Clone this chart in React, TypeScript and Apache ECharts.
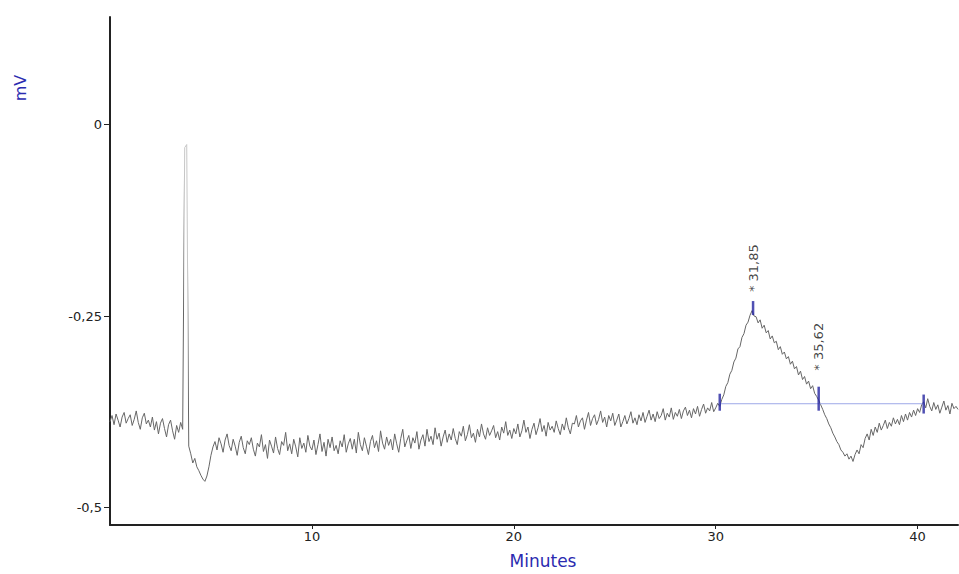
import React, { useEffect, useRef } from 'react';
import * as echarts from 'echarts';

// Sampling grid of the trace (minutes)
const TIME_STEP = 0.1;

// Detector signal in thousandths of mV, one row per minute (x.0 .. x.9), last row = 42.0
const signalRows: number[][] = [
  [-388, -380, -392, -378, -386, -395, -382, -376, -390, -384],
  [-379, -393, -385, -374, -389, -398, -383, -377, -391, -386],
  [-395, -382, -399, -388, -404, -390, -384, -397, -408, -392],
  [-386, -400, -411, -393, -402, -389, -398, -30, -26, -420],
  [-430, -442, -436, -447, -452, -458, -463, -466, -459, -447],
  [-432, -421, -414, -425, -409, -417, -428, -412, -404, -419],
  [-426, -411, -420, -432, -415, -407, -422, -430, -413, -418],
  [-409, -424, -433, -416, -421, -405, -427, -418, -436, -412],
  [-420, -429, -408, -423, -431, -414, -419, -402, -426, -417],
  [-430, -411, -421, -434, -409, -423, -416, -428, -406, -420],
  [-425, -412, -431, -418, -404, -427, -415, -433, -411, -422],
  [-408, -426, -419, -430, -413, -421, -405, -428, -417, -410],
  [-424, -411, -429, -402, -418, -426, -409, -420, -431, -414],
  [-406, -422, -413, -427, -400, -416, -424, -408, -419, -411],
  [-425, -404, -417, -428, -410, -398, -421, -413, -406, -423],
  [-409, -416, -401, -424, -412, -405, -420, -398, -414, -407],
  [-418, -396, -411, -403, -420, -408, -399, -415, -404, -412],
  [-397, -410, -418, -401, -407, -394, -413, -405, -392, -409],
  [-403, -415, -398, -408, -391, -404, -411, -396, -406, -400],
  [-393, -409, -401, -412, -395, -403, -388, -406, -399, -410],
  [-397, -404, -391, -408, -400, -386, -402, -395, -410, -398],
  [-390, -405, -396, -384, -401, -393, -407, -389, -399, -394],
  [-402, -387, -397, -405, -391, -399, -383, -396, -404, -390],
  [-391, -380, -395, -387, -383, -398, -386, -376, -393, -384],
  [-379, -392, -385, -374, -389, -382, -395, -380, -387, -377],
  [-393, -386, -378, -395, -388, -380, -391, -384, -375, -390],
  [-383, -392, -379, -387, -376, -389, -381, -373, -386, -378],
  [-388, -375, -384, -380, -371, -386, -377, -382, -370, -385],
  [-376, -381, -372, -384, -374, -369, -380, -373, -383, -371],
  [-378, -368, -381, -372, -365, -377, -370, -374, -363, -375],
  [-370, -364, -368, -359, -353, -342, -337, -326, -321, -310],
  [-305, -293, -290, -278, -273, -262, -258, -249, -243, -250],
  [-251, -259, -255, -266, -262, -272, -269, -280, -276, -285],
  [-283, -294, -290, -300, -297, -306, -303, -313, -309, -319],
  [-316, -327, -322, -333, -329, -339, -335, -345, -341, -351],
  [-355, -360, -366, -372, -379, -384, -391, -396, -403, -408],
  [-414, -418, -425, -428, -433, -430, -437, -433, -440, -431],
  [-425, -430, -418, -422, -410, -404, -412, -398, -406, -395],
  [-402, -390, -399, -393, -386, -397, -389, -394, -383, -391],
  [-385, -392, -380, -388, -378, -386, -376, -382, -373, -380],
  [-371, -376, -366, -362, -370, -358, -368, -374, -363, -372],
  [-366, -377, -369, -361, -373, -367, -378, -364, -371, -368],
  [-372],
];

// Axis ticks
const xTicks = [10, 20, 30, 40];
const yTicks = [-0.5, -0.25, 0];

// Integration markers (peak start / apex / end)
const markerTimes = [30.2, 31.85, 35.1, 40.3];
const markerValues = [-0.3626, -0.2396, -0.358, -0.365];
const markerHeights = [17, 14, 24, 19];
const markerLabels = ['', '* 31,85', '* 35,62', ''];
const markerLabelGaps = [0, 9, 16, 0];

// Baseline drawn under the peaks
const baselineTimes = [30.2, 40.3];
const baselineValues = [-0.3646, -0.3646];

const FONT = 'DejaVu Sans';

export default function App() {
  const ref = useRef<HTMLDivElement>(null);

  useEffect(() => {
    if (!ref.current) return;
    const chart = echarts.init(ref.current, undefined, { renderer: 'svg' });

    const values = signalRows.flat();
    const trace = values.map((v, i) => [Number((i * TIME_STEP).toFixed(2)), v / 1000]);

    const markers = markerTimes.map((t, i) => {
      const item: any = {
        value: [t, markerValues[i]],
        symbolSize: [2.5, markerHeights[i]],
      };
      if (markerLabels[i]) {
        item.label = {
          show: true,
          formatter: markerLabels[i],
          position: 'top',
          distance: markerLabelGaps[i],
          rotate: 90,
          align: 'left',
          verticalAlign: 'middle',
          color: '#111111',
          fontSize: 13,
          fontFamily: FONT,
        };
      }
      return item;
    });

    const baseline = baselineTimes.map((t, i) => [t, baselineValues[i]]);

    chart.setOption({
      animation: false,
      backgroundColor: '#ffffff',
      grid: { left: 110, right: 1, top: 17, bottom: 47, containLabel: false },
      xAxis: {
        type: 'value',
        min: 0,
        max: 42,
        name: 'Minutes',
        nameLocation: 'middle',
        nameGap: 27,
        nameTextStyle: { color: '#2b2bb0', fontSize: 17, fontFamily: FONT, padding: [0, 0, 0, 18] },
        axisLine: { show: true, onZero: false, lineStyle: { color: '#222', width: 2 } },
        axisTick: { show: true, length: 4, customValues: xTicks, lineStyle: { color: '#222' } },
        axisLabel: {
          customValues: xTicks,
          margin: 5,
          color: '#222',
          fontSize: 13,
          fontFamily: FONT,
        },
        splitLine: { show: false },
      },
      yAxis: {
        type: 'value',
        min: -0.523,
        max: 0.1406,
        axisLine: { show: true, onZero: false, lineStyle: { color: '#222', width: 2 } },
        axisTick: { show: true, length: 6, customValues: yTicks, lineStyle: { color: '#222' } },
        axisLabel: {
          customValues: yTicks,
          margin: 8,
          color: '#222',
          fontSize: 13,
          fontFamily: FONT,
          formatter: (v: number) => String(v).replace('.', ','),
        },
        splitLine: { show: false },
      },
      visualMap: {
        show: false,
        type: 'piecewise',
        seriesIndex: 0,
        dimension: 0,
        pieces: [{ gte: 3.65, lte: 3.85, color: '#c6c6c6' }],
        outOfRange: { color: '#666666' },
      },
      graphic: [
        {
          type: 'text',
          x: 20,
          y: 88,
          rotation: Math.PI / 2,
          style: {
            text: 'mV',
            fill: '#2b2bb0',
            fontSize: 16,
            fontFamily: FONT,
            align: 'center',
            verticalAlign: 'middle',
          },
        },
      ],
      series: [
        {
          type: 'line',
          data: trace,
          showSymbol: false,
          symbol: 'none',
          lineStyle: { width: 1 },
          z: 2,
        },
        {
          type: 'line',
          data: baseline,
          symbol: 'none',
          lineStyle: { color: '#9ea8e8', width: 1 },
          z: 3,
        },
        {
          type: 'scatter',
          data: markers,
          symbol: 'rect',
          itemStyle: { color: '#2424a0' },
          z: 4,
        },
      ],
    });

    return () => chart.dispose();
  }, []);

  return (
    <div
      ref={ref}
      style={{ position: 'absolute', left: 0, top: 0, width: 959, height: 574 }}
    />
  );
}
